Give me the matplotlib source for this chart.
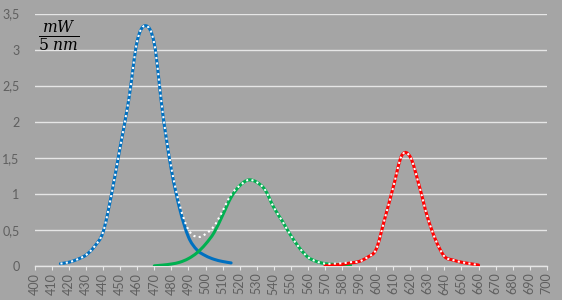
import matplotlib
matplotlib.use("Agg")
import matplotlib.pyplot as plt
from matplotlib.path import Path
from matplotlib.patches import PathPatch

# wavelengths (nm) and power per 5 nm band (mW)
blue_nm = list(range(415, 520, 5))
blue_mw = [0.03, 0.05, 0.09, 0.15, 0.27, 0.47, 1.0, 1.65, 2.3, 3.12, 3.33,
           3.08, 2.1, 1.33, 0.78, 0.4, 0.22, 0.14, 0.09, 0.06, 0.04]

green_nm = list(range(470, 590, 5))
green_mw = [0.0, 0.01, 0.025, 0.05, 0.1, 0.18, 0.3, 0.46, 0.7, 0.95, 1.11, 1.19,
            1.16, 1.05, 0.81, 0.62, 0.42, 0.25, 0.12, 0.06, 0.03, 0.02, 0.015, 0.01]

red_nm = list(range(570, 665, 5))
red_mw = [0.0, 0.01, 0.02, 0.04, 0.06, 0.12, 0.23, 0.65, 1.09, 1.53, 1.51,
          1.13, 0.68, 0.35, 0.13, 0.08, 0.05, 0.03, 0.01]

total_nm = list(range(415, 665, 5))
total_mw = [0.03, 0.05, 0.09, 0.15, 0.27, 0.47, 1.0, 1.65, 2.3, 3.12, 3.33,
            3.08, 2.11, 1.355, 0.83, 0.5, 0.4, 0.44, 0.55, 0.76, 0.99,
            1.11, 1.19, 1.16, 1.05, 0.81, 0.62, 0.42, 0.25, 0.12, 0.06,
            0.03, 0.03, 0.035, 0.05, 0.06, 0.12, 0.23, 0.65, 1.09, 1.53,
            1.51, 1.13, 0.68, 0.35, 0.13, 0.08, 0.05, 0.03, 0.01]

x_ticks = list(range(400, 710, 10))
y_ticks = [0, 0.5, 1, 1.5, 2, 2.5, 3, 3.5]
y_labels = ["0", "0,5", "1", "1,5", "2", "2,5", "3", "3,5"]

bg = "#a5a5a5"
txt = "#5f5f5f"


def smooth_path(xs, ys):
    # smoothed line like a spreadsheet chart (bezier through the points)
    verts = [(xs[0], ys[0])]
    codes = [Path.MOVETO]
    n = len(xs)
    for i in range(n - 1):
        x0, y0 = (xs[i - 1], ys[i - 1]) if i > 0 else (xs[i], ys[i])
        x1, y1 = xs[i], ys[i]
        x2, y2 = xs[i + 1], ys[i + 1]
        x3, y3 = (xs[i + 2], ys[i + 2]) if i + 2 < n else (x2, y2)
        c1 = (x1 + (x2 - x0) / 6, y1 + (y2 - y0) / 6)
        c2 = (x2 - (x3 - x1) / 6, y2 - (y3 - y1) / 6)
        verts += [c1, c2, (x2, y2)]
        codes += [Path.CURVE4] * 3
    return Path(verts, codes)


plt.rcParams['font.family'] = ['Lato', 'DejaVu Sans']

fig = plt.figure(figsize=(5.62, 3.0), dpi=100, facecolor=bg)
ax = fig.add_axes([0.062, 0.114, 0.911, 0.841], facecolor=bg)

for xs, ys, col in [(blue_nm, blue_mw, "#0070c0"),
                    (green_nm, green_mw, "#00b050"),
                    (red_nm, red_mw, "#ff0000")]:
    ax.add_patch(PathPatch(smooth_path(xs, ys), fill=False, edgecolor=col,
                           linewidth=2.2, capstyle="round", zorder=3))

ax.add_patch(PathPatch(smooth_path(total_nm, total_mw), fill=False,
                       edgecolor="white", linewidth=1.5,
                       linestyle=(0, (1.0, 1.6)), capstyle="butt", zorder=4))

ax.set_xlim(400, 700)
ax.set_ylim(0, 3.5)
ax.set_xticks(x_ticks)
ax.set_xticklabels([str(v) for v in x_ticks], rotation=90)
ax.set_yticks(y_ticks)
ax.set_yticklabels(y_labels)

ax.grid(axis="y", color="#e6e6e6", linewidth=1.0, zorder=1)
ax.set_axisbelow(True)
for s in ["top", "right", "left"]:
    ax.spines[s].set_visible(False)
ax.spines["bottom"].set_color("#e6e6e6")
ax.spines["bottom"].set_linewidth(1.0)

ax.tick_params(axis="x", colors="#e6e6e6", labelcolor=txt, labelsize=9,
               length=3, width=0.8, pad=2)
ax.tick_params(axis="y", length=0, labelcolor=txt, labelsize=9, pad=11)

ax.text(0.006, 0.98, r"$\frac{mW}{5\ nm}$", transform=ax.transAxes,
        fontsize=16, color="black", ha="left", va="top",
        math_fontfamily="dejavuserif")

fig.savefig("out.png", dpi=100, facecolor=bg)
